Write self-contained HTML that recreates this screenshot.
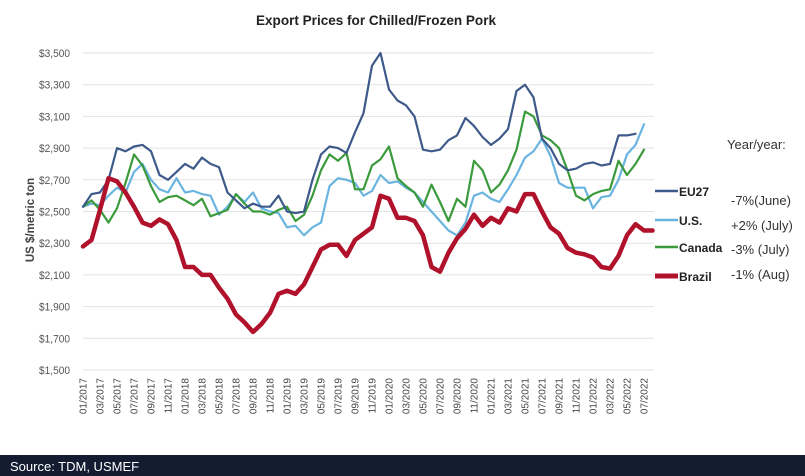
<!DOCTYPE html>
<html><head><meta charset="utf-8"><style>
html,body{margin:0;padding:0;background:#fff;}
body{width:805px;height:476px;overflow:hidden;position:relative;font-family:"Liberation Sans",sans-serif;}
svg{position:absolute;left:0;top:0;}
</style></head><body>
<svg width="805" height="476" viewBox="0 0 805 476" xmlns="http://www.w3.org/2000/svg">
<rect width="805" height="476" fill="#fff"/>
<text x="376" y="25" text-anchor="middle" font-size="14" font-weight="bold" fill="#222" font-family="Liberation Sans Narrow, Liberation Sans, sans-serif" textLength="240" lengthAdjust="spacingAndGlyphs">Export Prices for Chilled/Frozen Pork</text>
<g id="grid" stroke="#e2e2e2" stroke-width="1"></g>
<g id="yl" font-size="11" fill="#555" text-anchor="end"></g>
<text transform="translate(34,220) rotate(-90)" text-anchor="middle" font-size="11.5" font-weight="bold" fill="#444">US $/metric ton</text>
<g id="xl" font-size="10" fill="#444"></g>
<g id="lines" fill="none" stroke-linejoin="round" stroke-linecap="round"></g>
<g stroke-width="2.5"><line x1="655" y1="191" x2="678" y2="191" stroke="#3d5a8a"/><line x1="655" y1="220" x2="678" y2="220" stroke="#6ab4e0"/><line x1="655" y1="247" x2="678" y2="247" stroke="#3b9a3b"/><line x1="655" y1="276" x2="678" y2="276" stroke="#b0122c" stroke-width="5"/></g>
<g font-size="12" font-weight="bold" fill="#222"><text x="679" y="196">EU27</text><text x="679" y="225">U.S.</text><text x="679" y="252">Canada</text><text x="679" y="281">Brazil</text></g>
<g font-size="13" fill="#333"><text x="727" y="149">Year/year:</text><text x="731" y="205">-7%(June)</text><text x="731" y="230">+2% (July)</text><text x="731" y="254">-3% (July)</text><text x="731" y="279">-1% (Aug)</text></g>
<rect x="0" y="455" width="805" height="21" fill="#131c30"/>
<text x="10" y="471" font-size="13" fill="#fff">Source: TDM, USMEF</text>
</svg>
<script>
var ns="http://www.w3.org/2000/svg";
function Y(v){return 53+(3500-v)*317/2000;}
function X(i){return 83+8.5*i;}
var g=document.getElementById('grid'),yl=document.getElementById('yl');
for(var v=1500;v<=3500;v+=200){var l=document.createElementNS(ns,'line');l.setAttribute('x1',83);l.setAttribute('x2',654);l.setAttribute('y1',Y(v));l.setAttribute('y2',Y(v));g.appendChild(l);
var t=document.createElementNS(ns,'text');t.setAttribute('x',70);t.setAttribute('y',Y(v)+4);t.setAttribute('textLength',31);t.setAttribute('lengthAdjust','spacingAndGlyphs');t.textContent='$'+Math.floor(v/1000)+','+String(v%1000).padStart(3,'0');yl.appendChild(t);}
var xl=document.getElementById('xl');
for(var k=0;k<34;k++){var m=1+2*((k)%6),yr=2017+Math.floor(k/6);var t=document.createElementNS(ns,'text');var x=X(2*k)+3.5;t.setAttribute('transform','translate('+x+',378) rotate(-90)');t.setAttribute('text-anchor','end');t.textContent=(m<10?'0':'')+m+'/'+yr;xl.appendChild(t);}
var S={
eu:[2530,2610,2620,2700,2900,2880,2910,2920,2880,2730,2700,2750,2800,2770,2840,2800,2780,2620,2570,2520,2550,2530,2530,2600,2500,2490,2500,2700,2860,2910,2900,2870,3000,3120,3420,3500,3270,3200,3170,3100,2890,2880,2890,2950,2980,3090,3040,2970,2920,2960,3020,3260,3300,3220,2960,2900,2800,2760,2770,2800,2810,2790,2800,2980,2980,2990],
us:[2530,2550,2540,2600,2650,2620,2750,2800,2700,2640,2620,2710,2620,2630,2610,2600,2480,2530,2610,2560,2620,2520,2500,2490,2400,2410,2350,2400,2430,2660,2710,2700,2680,2600,2630,2730,2680,2690,2650,2620,2560,2500,2440,2380,2350,2430,2600,2620,2580,2560,2640,2730,2840,2880,2960,2850,2680,2650,2650,2650,2520,2590,2600,2700,2860,2920,3050],
ca:[2530,2570,2510,2430,2520,2680,2860,2790,2660,2560,2590,2600,2570,2540,2580,2470,2490,2510,2610,2550,2500,2500,2480,2510,2530,2440,2480,2600,2760,2860,2820,2870,2640,2640,2790,2830,2910,2710,2660,2620,2530,2670,2560,2440,2580,2530,2820,2760,2620,2670,2760,2890,3130,3100,2980,2950,2900,2760,2600,2570,2610,2630,2640,2820,2730,2800,2890],
br:[2280,2320,2510,2710,2690,2620,2530,2430,2410,2450,2420,2320,2150,2150,2100,2100,2020,1950,1850,1800,1740,1790,1860,1980,2000,1980,2040,2150,2260,2290,2290,2220,2320,2360,2400,2600,2580,2460,2460,2440,2350,2150,2120,2240,2330,2390,2480,2410,2460,2430,2520,2500,2610,2610,2500,2400,2360,2270,2240,2230,2210,2150,2140,2220,2350,2420,2380,2380]};
var st={eu:['#3d5a8a',2.2],us:['#6ab4e0',2.2],ca:['#3b9a3b',2.2],br:['#b0122c',4.5]};
var L=document.getElementById('lines');
['us','ca','eu','br'].forEach(function(k){var p=S[k].map(function(v,i){return X(i).toFixed(1)+','+Y(v).toFixed(1);}).join(' ');var e=document.createElementNS(ns,'polyline');e.setAttribute('points',p);e.setAttribute('stroke',st[k][0]);e.setAttribute('stroke-width',st[k][1]);L.appendChild(e);});
</script>
</body></html>
